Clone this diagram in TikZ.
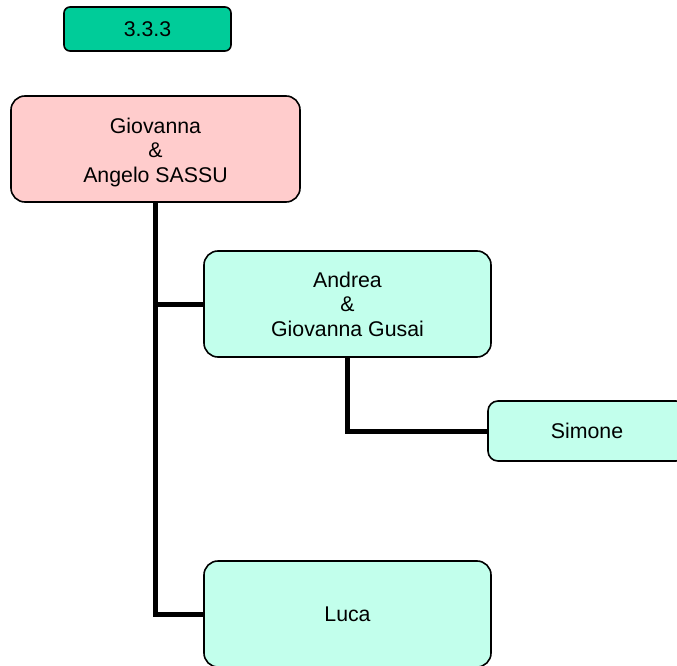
\documentclass[tikz,border=0pt]{standalone}
\usepackage{fontspec}
\setmainfont{Liberation Sans}
\definecolor{tagfill}{RGB}{0,204,153}
\definecolor{rootfill}{RGB}{255,204,204}
\definecolor{kidfill}{RGB}{194,255,236}
\newcommand{\stacklines}[2]{\raisebox{#1}[0pt][0pt]{\begin{tabular}{@{}c@{}}#2\end{tabular}}}
\begin{document}
\begin{tikzpicture}[x=1pt,y=1pt,
  box/.style={draw=black,line width=1.6pt,rounded corners=14pt,inner sep=0pt,align=center,
    font=\fontsize{21.3}{24.5}\selectfont},
  link/.style={line width=5pt,draw=black}]
\useasboundingbox (0,0) rectangle (677,665);
\clip (0,0) rectangle (677,665);
\node[box,fill=tagfill,rounded corners=6pt,minimum width=167pt,minimum height=44pt] (tag) at (147.5,636) {3.3.3};
\node[box,fill=rootfill,minimum width=289pt,minimum height=106pt] (root) at (155.5,516) {\stacklines{-9pt}{Giovanna\\\&\\Angelo SASSU}};
\node[box,fill=kidfill,minimum width=287pt,minimum height=106pt] (andrea) at (347.5,361) {\stacklines{-8pt}{Andrea\\\&\\Giovanna Gusai}};
\node[box,fill=kidfill,rounded corners=10pt,minimum width=198pt,minimum height=60pt] (simone) at (587,234) {Simone};
\node[box,fill=kidfill,minimum width=287pt,minimum height=106pt] (luca) at (347.5,51) {Luca};
\draw[link] (root.south) |- (luca.west);
\draw[link] (root.south) |- (andrea.west);
\draw[link] (andrea.south) |- (simone.west);
\end{tikzpicture}
\end{document}
